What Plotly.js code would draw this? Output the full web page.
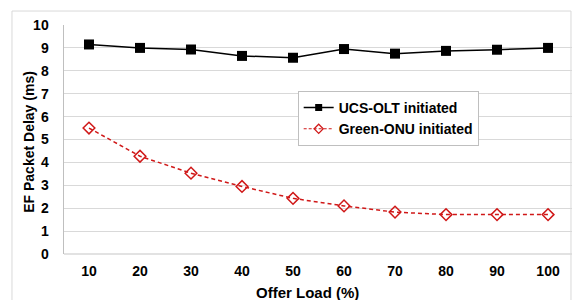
<!DOCTYPE html>
<html>
<head>
<meta charset="utf-8">
<script src="https://cdn.plot.ly/plotly-3.0.1.min.js"></script>
<style>html,body{margin:0;padding:0;background:#fff;}#chart{width:572px;height:300px;}</style>
</head>
<body>
<div id="chart"></div>
<script>
const offerLoad = [10, 20, 30, 40, 50, 60, 70, 80, 90, 100];
const ucsOlt = [9.15, 9.0, 8.93, 8.65, 8.57, 8.95, 8.75, 8.87, 8.92, 9.0];
const greenOnu = [5.5, 4.27, 3.53, 2.95, 2.43, 2.1, 1.83, 1.72, 1.72, 1.72];
const xTickLabels = ['10', '20', '30', '40', '50', '60', '70', '80', '90', '100'];
const seriesNames = ['UCS-OLT initiated', 'Green-ONU initiated'];
const xTitle = 'Offer Load (%)';
const yTitle = 'EF Packet Delay (ms)';

const font = 'Liberation Sans, Arial, sans-serif';
const black = '#000000';
const red = '#d01818';
const traces = [
  {x: offerLoad, y: ucsOlt, name: seriesNames[0], mode: 'lines+markers', showlegend: false,
   line: {color: black, width: 1.5},
   marker: {symbol: 'square', size: 10, color: black}},
  {x: offerLoad, y: greenOnu, name: seriesNames[1], mode: 'lines+markers', showlegend: false,
   line: {color: red, width: 1.5, dash: '4px,3px'},
   marker: {symbol: 'diamond-open', size: 9, color: red, line: {width: 1.5, color: red}}},
  // legend-only entries (smaller sample markers, as in the reference legend)
  {x: [null], y: [null], name: seriesNames[0], mode: 'lines+markers',
   line: {color: black, width: 1.5},
   marker: {symbol: 'square', size: 7, color: black}},
  {x: [null], y: [null], name: seriesNames[1], mode: 'lines+markers',
   line: {color: red, width: 1.2, dash: '3px,2px'},
   marker: {symbol: 'diamond-open', size: 7, color: red, line: {width: 1.2, color: red}}}
];
const layout = {
  width: 572, height: 300,
  margin: {l: 64, r: 0, t: 25, b: 46},
  paper_bgcolor: '#ffffff', plot_bgcolor: '#ffffff',
  font: {family: font, size: 13, color: '#000'},
  showlegend: true,
  legend: {x: 0.46, y: 0.712, xanchor: 'left', yanchor: 'top',
    bordercolor: '#bfbfbf', borderwidth: 1, bgcolor: '#ffffff',
    font: {family: font, size: 14, color: '#000', weight: 'bold'},
    tracegroupgap: 0},
  xaxis: {range: [5.1, 104.7], tickvals: offerLoad, ticktext: xTickLabels,
    showgrid: false, zeroline: false, showline: false, ticks: '',
    ticklabelstandoff: 7,
    tickfont: {family: font, size: 14, weight: 'bold'}},
  yaxis: {range: [0, 10], dtick: 1, showgrid: true, gridcolor: '#d9d9d9', gridwidth: 1,
    zeroline: false, showline: true, linecolor: '#bfbfbf', linewidth: 1.5, ticks: '',
    ticklabelstandoff: 11,
    tickfont: {family: font, size: 14, weight: 'bold'}},
  annotations: [
    {text: xTitle, xref: 'paper', yref: 'paper', x: (307 - 64) / 508, y: (254 - 292) / 229,
     xanchor: 'center', yanchor: 'middle', showarrow: false,
     font: {family: font, size: 15, weight: 'bold', color: '#000'}},
    {text: yTitle, xref: 'paper', yref: 'paper', x: (29 - 64) / 508, y: 0.49,
     xanchor: 'center', yanchor: 'middle', showarrow: false, textangle: -90,
     font: {family: font, size: 14, weight: 'bold', color: '#000'}}
  ],
  shapes: [
    {type: 'line', xref: 'paper', yref: 'paper', x0: 0, x1: 1, y0: 0, y1: 0,
     line: {color: '#d9d9d9', width: 1.5}},
    {type: 'rect', xref: 'paper', yref: 'paper', x0: -0.1024, x1: 0.998, y0: -0.25, y1: 1.061,
     line: {color: '#d9d9d9', width: 1}, layer: 'below'}
  ]
};
Plotly.newPlot('chart', traces, layout, {displayModeBar: false, staticPlot: true});
</script>
</body>
</html>
